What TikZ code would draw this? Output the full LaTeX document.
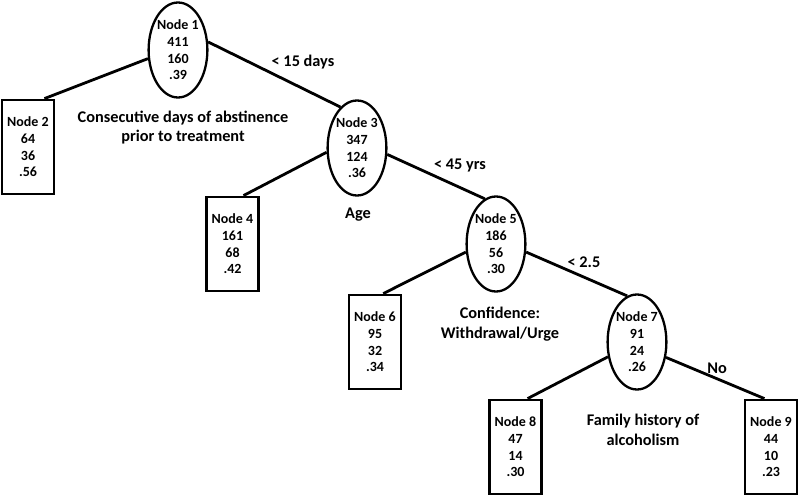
\documentclass[tikz,border=0pt]{standalone}
\usepackage{fontspec}
\setmainfont{Carlito}
\usetikzlibrary{shapes.geometric,calc}
\tikzset{
  split/.style={draw, line width=2.3pt, ellipse, minimum width=58pt, minimum height=95pt, inner sep=0pt, align=center, font=\bfseries\fontsize{14}{16.6}\selectfont},
  leaf/.style={draw, line width=2.8pt, rectangle, minimum width=52pt, minimum height=94pt, inner sep=0pt, align=center, font=\bfseries\fontsize{14}{16.6}\selectfont},
  edge/.style={line width=2.8pt},
  lbl/.style={align=center, inner sep=0pt, font=\bfseries\fontsize{16.3}{19.5}\selectfont}
}
\begin{document}
\begin{tikzpicture}[x=1pt,y=-1pt]
\useasboundingbox (0,0) rectangle (800,497);
\node[split] (n1) at (178,50) {Node 1\\411\\160\\.39};
\node[leaf] (n2) at (28,147) {Node 2\\64\\36\\.56};
\node[split] (n3) at (357,148) {Node 3\\347\\124\\.36};
\node[leaf] (n4) at (232.5,244) {Node 4\\161\\68\\.42};
\node[split] (n5) at (496,244) {Node 5\\186\\56\\.30};
\node[leaf] (n6) at (375,342) {Node 6\\95\\32\\.34};
\node[split] (n7) at (637,342) {Node 7\\91\\24\\.26};
\node[leaf] (n8) at (515.5,447) {Node 8\\47\\14\\.30};
\node[leaf] (n9) at (771,447) {Node 9\\44\\10\\.23};

\draw[edge] (n1.196) -- ($(n2.north west)!0.8!(n2.north east)$);
\draw[edge] (n1.15) -- (n3.112);
\draw[edge] (n3.188) -- ($(n4.north west)!0.7!(n4.north east)$);
\draw[edge] (n3.348) -- (n5.104);
\draw[edge] (n5.195) -- ($(n6.north west)!0.65!(n6.north east)$);
\draw[edge] (n5.345) -- (n7.102);
\draw[edge] (n7.207) -- ($(n8.north west)!0.72!(n8.north east)$);
\draw[edge] (n7.332) -- ($(n9.north west)!0.38!(n9.north east)$);

\node[lbl] (l1) at (303,62) {< 15 days};
\node[lbl] (l2) at (460,165) {< 45 yrs};
\node[lbl] (l3) at (584,262) {< 2.5};
\node[lbl] (l4) at (717,368) {No};
\node[lbl] (t1) at (183,127.5) {Consecutive days of abstinence\\prior to treatment};
\node[lbl] (t2) at (358,215) {Age};
\node[lbl] (t3) at (500,324) {Confidence:\\Withdrawal/Urge};
\node[lbl] (t4) at (643,430) {Family history of\\alcoholism};
\end{tikzpicture}
\end{document}
